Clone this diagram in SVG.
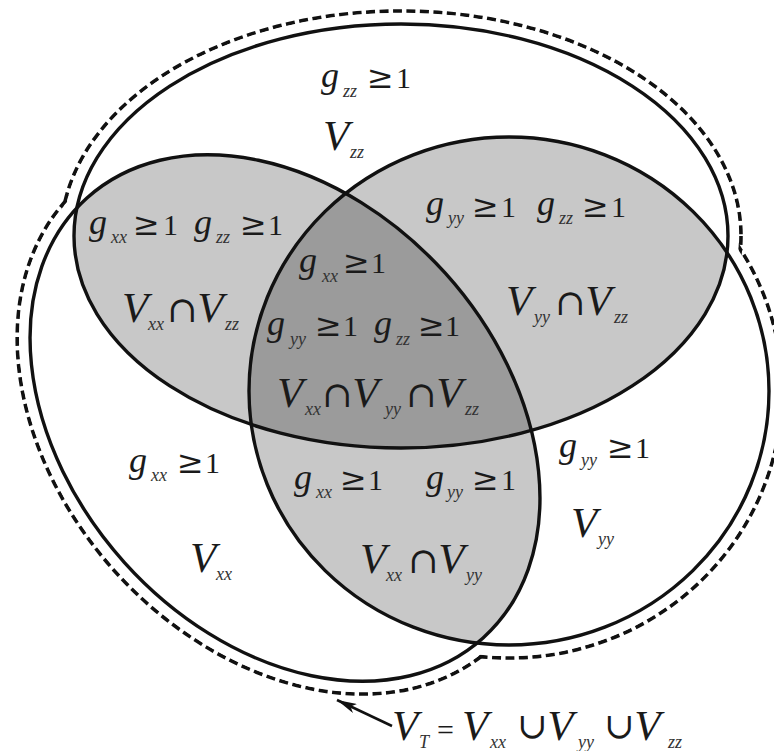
<svg xmlns="http://www.w3.org/2000/svg" width="774" height="751" viewBox="0 0 774 751">
<style>
.sol{fill:none;stroke:#111;stroke-width:3.4}
.dsh{fill:none;stroke:#111;stroke-width:3.6;stroke-dasharray:9 4.5}
.pair{fill:#c8c8c8}
.trip{fill:#9b9b9b}
text{font-family:"Liberation Serif","Times New Roman",serif;fill:#1a1a1a}
.g{font-style:italic;font-size:36px}
.v{font-style:italic;font-size:43px}
.s{font-style:italic;font-size:18px;fill:#333}
.r{font-family:"DejaVu Serif","Liberation Serif",serif;font-size:32px}
.o{font-size:30px}
.c{font-family:"DejaVu Serif","Liberation Serif",serif;font-size:36px}
</style>
<defs>
<clipPath id="cZ"><ellipse cx="401" cy="236" rx="327" ry="212"/></clipPath>
<clipPath id="cY"><ellipse cx="509" cy="391" rx="260" ry="254"/></clipPath>
<mask id="mOut" maskUnits="userSpaceOnUse" x="0" y="0" width="774" height="751">
<rect width="774" height="751" fill="#fff"/>
<ellipse cx="401" cy="236" rx="338" ry="223" fill="#000"/>
<ellipse cx="285" cy="418" rx="307" ry="227" transform="rotate(48 285 418)" fill="#000"/>
<ellipse cx="509" cy="391" rx="271" ry="265" fill="#000"/>
</mask>
<marker id="ah" viewBox="0 0 20 10" refX="20" refY="5" markerWidth="20" markerHeight="10" markerUnits="userSpaceOnUse" orient="auto">
<path d="M20,5 L0,0 L5,5 L0,10 z" fill="#111"/>
</marker>
</defs>
<rect width="774" height="751" fill="#fff"/>

<g id="fills">
<g clip-path="url(#cZ)"><ellipse class="pair" cx="285" cy="418" rx="296" ry="216" transform="rotate(48 285 418)"/></g>
<g clip-path="url(#cZ)"><ellipse class="pair" cx="509" cy="391" rx="260" ry="254"/></g>
<g clip-path="url(#cY)"><ellipse class="pair" cx="285" cy="418" rx="296" ry="216" transform="rotate(48 285 418)"/></g>
<g clip-path="url(#cZ)"><g clip-path="url(#cY)"><ellipse class="trip" cx="285" cy="418" rx="296" ry="216" transform="rotate(48 285 418)"/></g></g>
</g>

<g id="set-zz"><ellipse class="sol" cx="401" cy="236" rx="327" ry="212"/></g>
<g id="set-xx"><ellipse class="sol" cx="285" cy="418" rx="296" ry="216" transform="rotate(48 285 418)"/></g>
<g id="set-yy"><ellipse class="sol" cx="509" cy="391" rx="260" ry="254"/></g>

<g id="union-VT" mask="url(#mOut)">
<ellipse class="dsh" cx="401" cy="236" rx="340" ry="225"/>
<ellipse class="dsh" cx="285" cy="418" rx="309" ry="229" transform="rotate(48 285 418)"/>
<ellipse class="dsh" cx="509" cy="391" rx="273" ry="267"/>
</g>

<g id="label-zz">
<text><tspan class="g" x="321" y="87">g</tspan><tspan class="s" x="343" y="97">zz</tspan><tspan class="r" x="367" y="88">≥</tspan><tspan class="o" x="396" y="88">1</tspan></text>
<text><tspan class="v" x="323" y="150">V</tspan><tspan class="s" x="350" y="158">zz</tspan></text>
</g>

<g id="label-xz">
<text><tspan class="g" x="89" y="234">g</tspan><tspan class="s" x="111" y="243">xx</tspan><tspan class="r" x="133" y="235">≥</tspan><tspan class="o" x="163" y="235">1</tspan><tspan class="g" x="194" y="234">g</tspan><tspan class="s" x="216" y="243">zz</tspan><tspan class="r" x="240" y="235">≥</tspan><tspan class="o" x="268" y="235">1</tspan></text>
<text><tspan class="v" x="122" y="322">V</tspan><tspan class="s" x="148" y="330">xx</tspan><tspan class="c" x="167" y="322">∩</tspan><tspan class="v" y="322">V</tspan><tspan class="s" x="225" y="330">zz</tspan></text>
</g>

<g id="label-xyz">
<text><tspan class="g" x="299" y="272">g</tspan><tspan class="s" x="322" y="282">xx</tspan><tspan class="r" x="343" y="273">≥</tspan><tspan class="o" x="371" y="273">1</tspan></text>
<text><tspan class="g" x="267" y="335">g</tspan><tspan class="s" x="290" y="345">yy</tspan><tspan class="r" x="315" y="336">≥</tspan><tspan class="o" x="343" y="336">1</tspan><tspan class="g" x="374" y="335">g</tspan><tspan class="s" x="396" y="345">zz</tspan><tspan class="r" x="418" y="336">≥</tspan><tspan class="o" x="445" y="336">1</tspan></text>
<text><tspan class="v" x="277" y="407">V</tspan><tspan class="s" x="305" y="415">xx</tspan><tspan class="c" x="322" y="407">∩</tspan><tspan class="v" y="407">V</tspan><tspan class="s" x="385" y="415">yy</tspan><tspan class="c" x="406" y="407">∩</tspan><tspan class="v" y="407">V</tspan><tspan class="s" x="465" y="415">zz</tspan></text>
</g>

<g id="label-yz">
<text><tspan class="g" x="426" y="215">g</tspan><tspan class="s" x="448" y="224">yy</tspan><tspan class="r" x="472" y="217">≥</tspan><tspan class="o" x="501" y="217">1</tspan><tspan class="g" x="537" y="215">g</tspan><tspan class="s" x="559" y="224">zz</tspan><tspan class="r" x="582" y="217">≥</tspan><tspan class="o" x="611" y="217">1</tspan></text>
<text><tspan class="v" x="506" y="315">V</tspan><tspan class="s" x="534" y="323">yy</tspan><tspan class="c" x="555" y="315">∩</tspan><tspan class="v" y="315">V</tspan><tspan class="s" x="614" y="323">zz</tspan></text>
</g>

<g id="label-xx">
<text><tspan class="g" x="129" y="472">g</tspan><tspan class="s" x="151" y="481">xx</tspan><tspan class="r" x="177" y="473">≥</tspan><tspan class="o" x="205" y="473">1</tspan></text>
<text><tspan class="v" x="190" y="572">V</tspan><tspan class="s" x="216" y="580">xx</tspan></text>
</g>

<g id="label-xy">
<text><tspan class="g" x="294" y="489">g</tspan><tspan class="s" x="316" y="498">xx</tspan><tspan class="r" x="340" y="490">≥</tspan><tspan class="o" x="368" y="490">1</tspan><tspan class="g" x="426" y="489">g</tspan><tspan class="s" x="447" y="498">yy</tspan><tspan class="r" x="472" y="490">≥</tspan><tspan class="o" x="501" y="490">1</tspan></text>
<text><tspan class="v" x="360" y="573">V</tspan><tspan class="s" x="386" y="581">xx</tspan><tspan class="c" x="408" y="573">∩</tspan><tspan class="v" y="573">V</tspan><tspan class="s" x="466" y="581">yy</tspan></text>
</g>

<g id="label-yy">
<text><tspan class="g" x="559" y="457">g</tspan><tspan class="s" x="581" y="466">yy</tspan><tspan class="r" x="607" y="458">≥</tspan><tspan class="o" x="635" y="458">1</tspan></text>
<text><tspan class="v" x="571" y="537">V</tspan><tspan class="s" x="598" y="545">yy</tspan></text>
</g>

<g id="connectors">
<line x1="392" y1="726" x2="337" y2="700" stroke="#111" stroke-width="2.5" marker-end="url(#ah)"/>
</g>

<g id="label-VT">
<text><tspan class="v" x="392" y="740">V</tspan><tspan class="s" x="419" y="748">T</tspan><tspan class="o" x="437" y="740">=</tspan><tspan class="v" x="462" y="740">V</tspan><tspan class="s" x="490" y="748">xx</tspan><tspan class="c" x="517" y="738">∪</tspan><tspan class="v" y="740">V</tspan><tspan class="s" x="578" y="748">yy</tspan><tspan class="c" x="604" y="738">∪</tspan><tspan class="v" y="740">V</tspan><tspan class="s" x="668" y="748">zz</tspan></text>
</g>
</svg>
